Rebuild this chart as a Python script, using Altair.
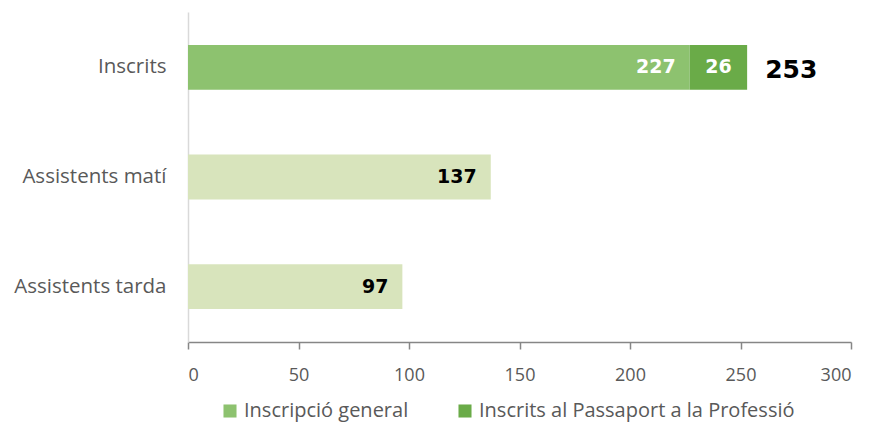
import altair as alt
import pandas as pd

categories = ["Inscrits", "Inscrits", "Assistents matí", "Assistents tarda"]
series = ["Inscripció general", "Inscrits al Passaport a la Professió", "Assistents", "Assistents"]
values = [227, 26, 137, 97]
label_colors = ["white", "white", "black", "black"]
label_align = ["right", "center", "right", "right"]
total_cat = ["Inscrits"]
total_val = [253]

order = ["Inscrits", "Assistents matí", "Assistents tarda"]
color_domain = ["Inscripció general", "Inscrits al Passaport a la Professió", "Assistents"]
color_range = ["#8DC26F", "#6AAB48", "#D8E4BC"]

rows = []
acc = {}
for c, s, v, lc, la in zip(categories, series, values, label_colors, label_align):
    start = acc.get(c, 0)
    end = start + v
    acc[c] = end
    rows.append(dict(cat=c, series=s, start=start, end=end, mid=(start + end) / 2,
                     value=v, lc=lc, align=la))
df = pd.DataFrame(rows)
tot = pd.DataFrame(dict(cat=total_cat, total=total_val))

y = alt.Y("cat:N", sort=order, title=None,
          scale=alt.Scale(paddingInner=0.59, paddingOuter=0.3),
          axis=alt.Axis(ticks=False, domainColor="#D9D9D9", domainWidth=1.5,
                        labelFont="Open Sans", labelFontSize=20.5, labelColor="#595959",
                        labelPadding=22))

bars = alt.Chart(df).mark_bar().encode(
    x=alt.X("start:Q", title=None, scale=alt.Scale(domain=[0, 300]),
            axis=alt.Axis(values=[0, 50, 100, 150, 200, 250, 300], grid=False,
                          domainColor="#868686", tickColor="#868686", tickSize=7,
                          domainWidth=1.5, tickWidth=1.5,
                          labelFont="Open Sans", labelFontSize=18, labelColor="#595959",
                          labelPadding=17)),
    x2="end:Q",
    y=y,
    color=alt.Color("series:N", title=None,
                    scale=alt.Scale(domain=color_domain, range=color_range),
                    legend=alt.Legend(values=color_domain[:2], orient="none",
                                      direction="horizontal", legendX=32, legendY=389,
                                      symbolType="square", symbolSize=170,
                                      symbolStrokeWidth=0, columnPadding=46,
                                      labelOffset=4,
                                      labelFont="Open Sans", labelFontSize=20,
                                      labelColor="#595959", labelLimit=400)),
)

font = "DejaVu Sans"
right_lbl = alt.Chart(df[df["align"] == "right"]).mark_text(
    align="right", baseline="middle", dx=-14, font=font, fontWeight="bold", fontSize=19
).encode(x="end:Q", y=alt.Y("cat:N", sort=order), text="value:Q",
         color=alt.Color("lc:N", scale=None))

center_lbl = alt.Chart(df[df["align"] == "center"]).mark_text(
    align="center", baseline="middle", font=font, fontWeight="bold", fontSize=19
).encode(x="mid:Q", y=alt.Y("cat:N", sort=order), text="value:Q",
         color=alt.Color("lc:N", scale=None))

total_lbl = alt.Chart(tot).mark_text(
    align="left", baseline="middle", dx=18, dy=3, font=font, fontWeight="bold",
    fontSize=25, color="black"
).encode(x="total:Q", y=alt.Y("cat:N", sort=order), text="total:Q")

chart = alt.layer(bars, right_lbl, center_lbl, total_lbl).properties(
    width=663, height=330,
    autosize=alt.AutoSizeParams(type="none"),
    padding={"left": 180, "top": 4, "right": 12, "bottom": 80},
).configure_view(stroke=None)

chart.save("out.html", embed_options={"renderer": "svg", "actions": False})
